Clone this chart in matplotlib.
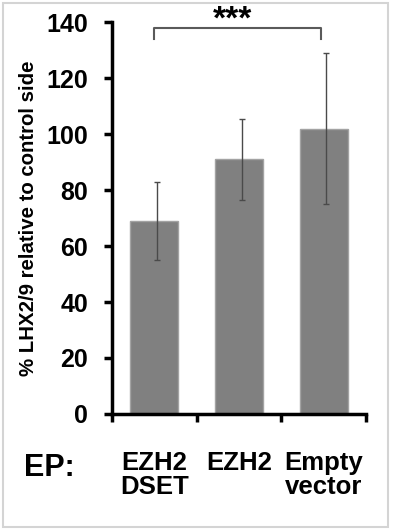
import numpy as np
import matplotlib
matplotlib.use('Agg')
import matplotlib.pyplot as plt
from matplotlib.patches import Rectangle

plt.rcParams['font.family'] = ['Liberation Sans', 'DejaVu Sans']

# data
groups = ['EZH2\nDSET', 'EZH2', 'Empty\nvector']
values = [69, 91, 102]
errors = [14, 14.5, 27]
yticks = [0, 20, 40, 60, 80, 100, 120, 140]

fig = plt.figure(figsize=(3.98, 5.30), dpi=100)
ax = fig.add_axes([0.281, 0.219, 0.639, 0.739])

x = np.arange(len(groups))
ax.bar(x, values, width=0.57, color='#808080', edgecolor='#a3a3a3', linewidth=1.0, zorder=2)
ax.errorbar(x + 0.03, values, yerr=errors, fmt='none', ecolor='#4a4a4a',
            elinewidth=1.0, capsize=2, capthick=1.0, zorder=3)

ax.set_xlim(-0.5, 2.5)
ax.set_ylim(0, 140)
ax.set_yticks(yticks)
ax.set_yticklabels([str(t) for t in yticks], fontsize=18, fontweight='bold')
ax.set_xticks(x)
ax.set_xticklabels(groups, fontsize=18.5, fontweight='bold', linespacing=1.0)
ax.set_xticks([-0.5, 0.5, 1.5, 2.5], minor=True)
ax.tick_params(axis='x', which='major', length=0, pad=27)
ax.tick_params(axis='x', which='minor', length=6, width=2.5, direction='out')
ax.tick_params(axis='y', length=6, width=2.5, direction='out', pad=11)

for s in ['top', 'right']:
    ax.spines[s].set_visible(False)
for s in ['left', 'bottom']:
    ax.spines[s].set_linewidth(2.5)
    ax.spines[s].set_color('black')

ax.set_ylabel('% LHX2/9 relative to control side', fontsize=14.7, fontweight='bold', labelpad=6)

# significance bracket
ax.plot([0, 0, 2 - 0.03, 2 - 0.03], [134, 138, 138, 134], color='#5a5a5a', lw=1.5,
        clip_on=False, zorder=4)
fig.text(233 / 398, 1 - 20 / 530, '***', ha='center', va='center', fontsize=24, fontweight='bold')

fig.text(24 / 398, 1 - 468 / 530, 'EP:', ha='left', va='center', fontsize=22, fontweight='bold')

# light frame around the figure
fig.patches.append(Rectangle((3 / 398, 3 / 530), 385 / 398, 524 / 530, transform=fig.transFigure,
                             fill=False, edgecolor='#d4d4d4', linewidth=1.5))

fig.savefig('out.png', dpi=100)
